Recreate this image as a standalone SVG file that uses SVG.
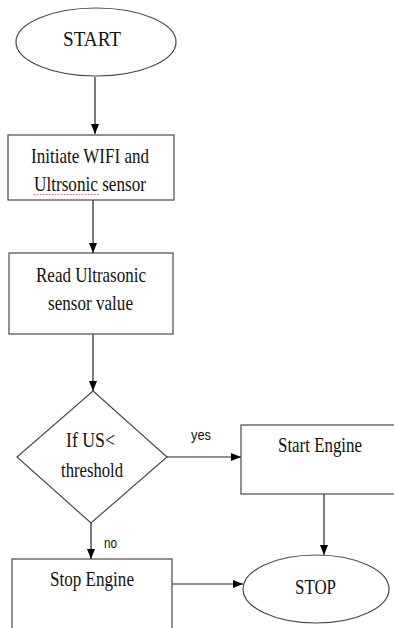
<svg xmlns="http://www.w3.org/2000/svg" width="394" height="628" viewBox="0 0 394 628">
<style>
.shape{fill:#fff;stroke:#4a4a4a;stroke-width:1.2}
.lbl{font-family:"Liberation Serif","Times New Roman",serif;font-size:22px;fill:#111;text-anchor:start}
.small{font-family:"Liberation Sans",Arial,sans-serif;font-size:14px;fill:#111}
.conn{stroke:#222;stroke-width:1.2;fill:none;marker-end:url(#ah)}
</style>
<defs>
<marker id="ah" markerUnits="userSpaceOnUse" markerWidth="10" markerHeight="10" viewBox="0 0 10 10" refX="10" refY="5" orient="auto">
<path d="M0,1 L10,5 L0,9 Z" fill="#000"/>
</marker>
</defs>
<rect width="394" height="628" fill="#fff"/>
<g id="connectors">
<line class="conn" x1="95" y1="77" x2="95" y2="134"/>
<line class="conn" x1="93" y1="200" x2="93" y2="253"/>
<line class="conn" x1="93" y1="334" x2="93" y2="391"/>
<line class="conn" x1="167" y1="457" x2="241" y2="457"/>
<line class="conn" x1="91" y1="523" x2="91" y2="559"/>
<line class="conn" x1="324" y1="494" x2="324" y2="555"/>
<line class="conn" x1="172" y1="584" x2="243" y2="584"/>
<text class="small" x="191" y="440" textLength="20" lengthAdjust="spacingAndGlyphs">yes</text>
<text class="small" x="104" y="548" textLength="13" lengthAdjust="spacingAndGlyphs">no</text>
</g>
<g id="start">
<ellipse class="shape" cx="96" cy="42" rx="80" ry="34"/>
<text class="lbl" x="63" y="46" font-size="23" textLength="58" lengthAdjust="spacingAndGlyphs">START</text>
</g>
<g id="init">
<rect class="shape" x="8" y="135" width="166" height="65"/>
<text class="lbl" x="31" y="163" textLength="118" lengthAdjust="spacingAndGlyphs">Initiate WIFI and</text>
<text class="lbl" x="34" y="191" textLength="112" lengthAdjust="spacingAndGlyphs">Ultrsonic sensor</text>
<line x1="34" y1="194.5" x2="100" y2="194.5" stroke="#e04040" stroke-width="0.8" stroke-dasharray="1.5,1.5"/>
</g>
<g id="read">
<rect class="shape" x="9" y="253" width="164" height="81"/>
<text class="lbl" x="36" y="282" textLength="110" lengthAdjust="spacingAndGlyphs">Read Ultrasonic</text>
<text class="lbl" x="48" y="310" textLength="85" lengthAdjust="spacingAndGlyphs">sensor value</text>
</g>
<g id="decision">
<polygon class="shape" points="93,391 167,457 91,523 17,457"/>
<text class="lbl" x="66" y="447" textLength="49" lengthAdjust="spacingAndGlyphs">If US&lt;</text>
<text class="lbl" x="61" y="477" textLength="62" lengthAdjust="spacingAndGlyphs">threshold</text>
</g>
<g id="start-engine">
<rect class="shape" x="241" y="425" width="160" height="69"/>
<text class="lbl" x="278" y="452" textLength="84" lengthAdjust="spacingAndGlyphs">Start Engine</text>
</g>
<g id="stop-engine">
<rect class="shape" x="12" y="559" width="160" height="80"/>
<text class="lbl" x="50" y="586" textLength="84" lengthAdjust="spacingAndGlyphs">Stop Engine</text>
</g>
<g id="stop">
<ellipse class="shape" cx="316" cy="589" rx="73" ry="34"/>
<text class="lbl" x="295" y="594" textLength="41" lengthAdjust="spacingAndGlyphs">STOP</text>
</g>
</svg>
